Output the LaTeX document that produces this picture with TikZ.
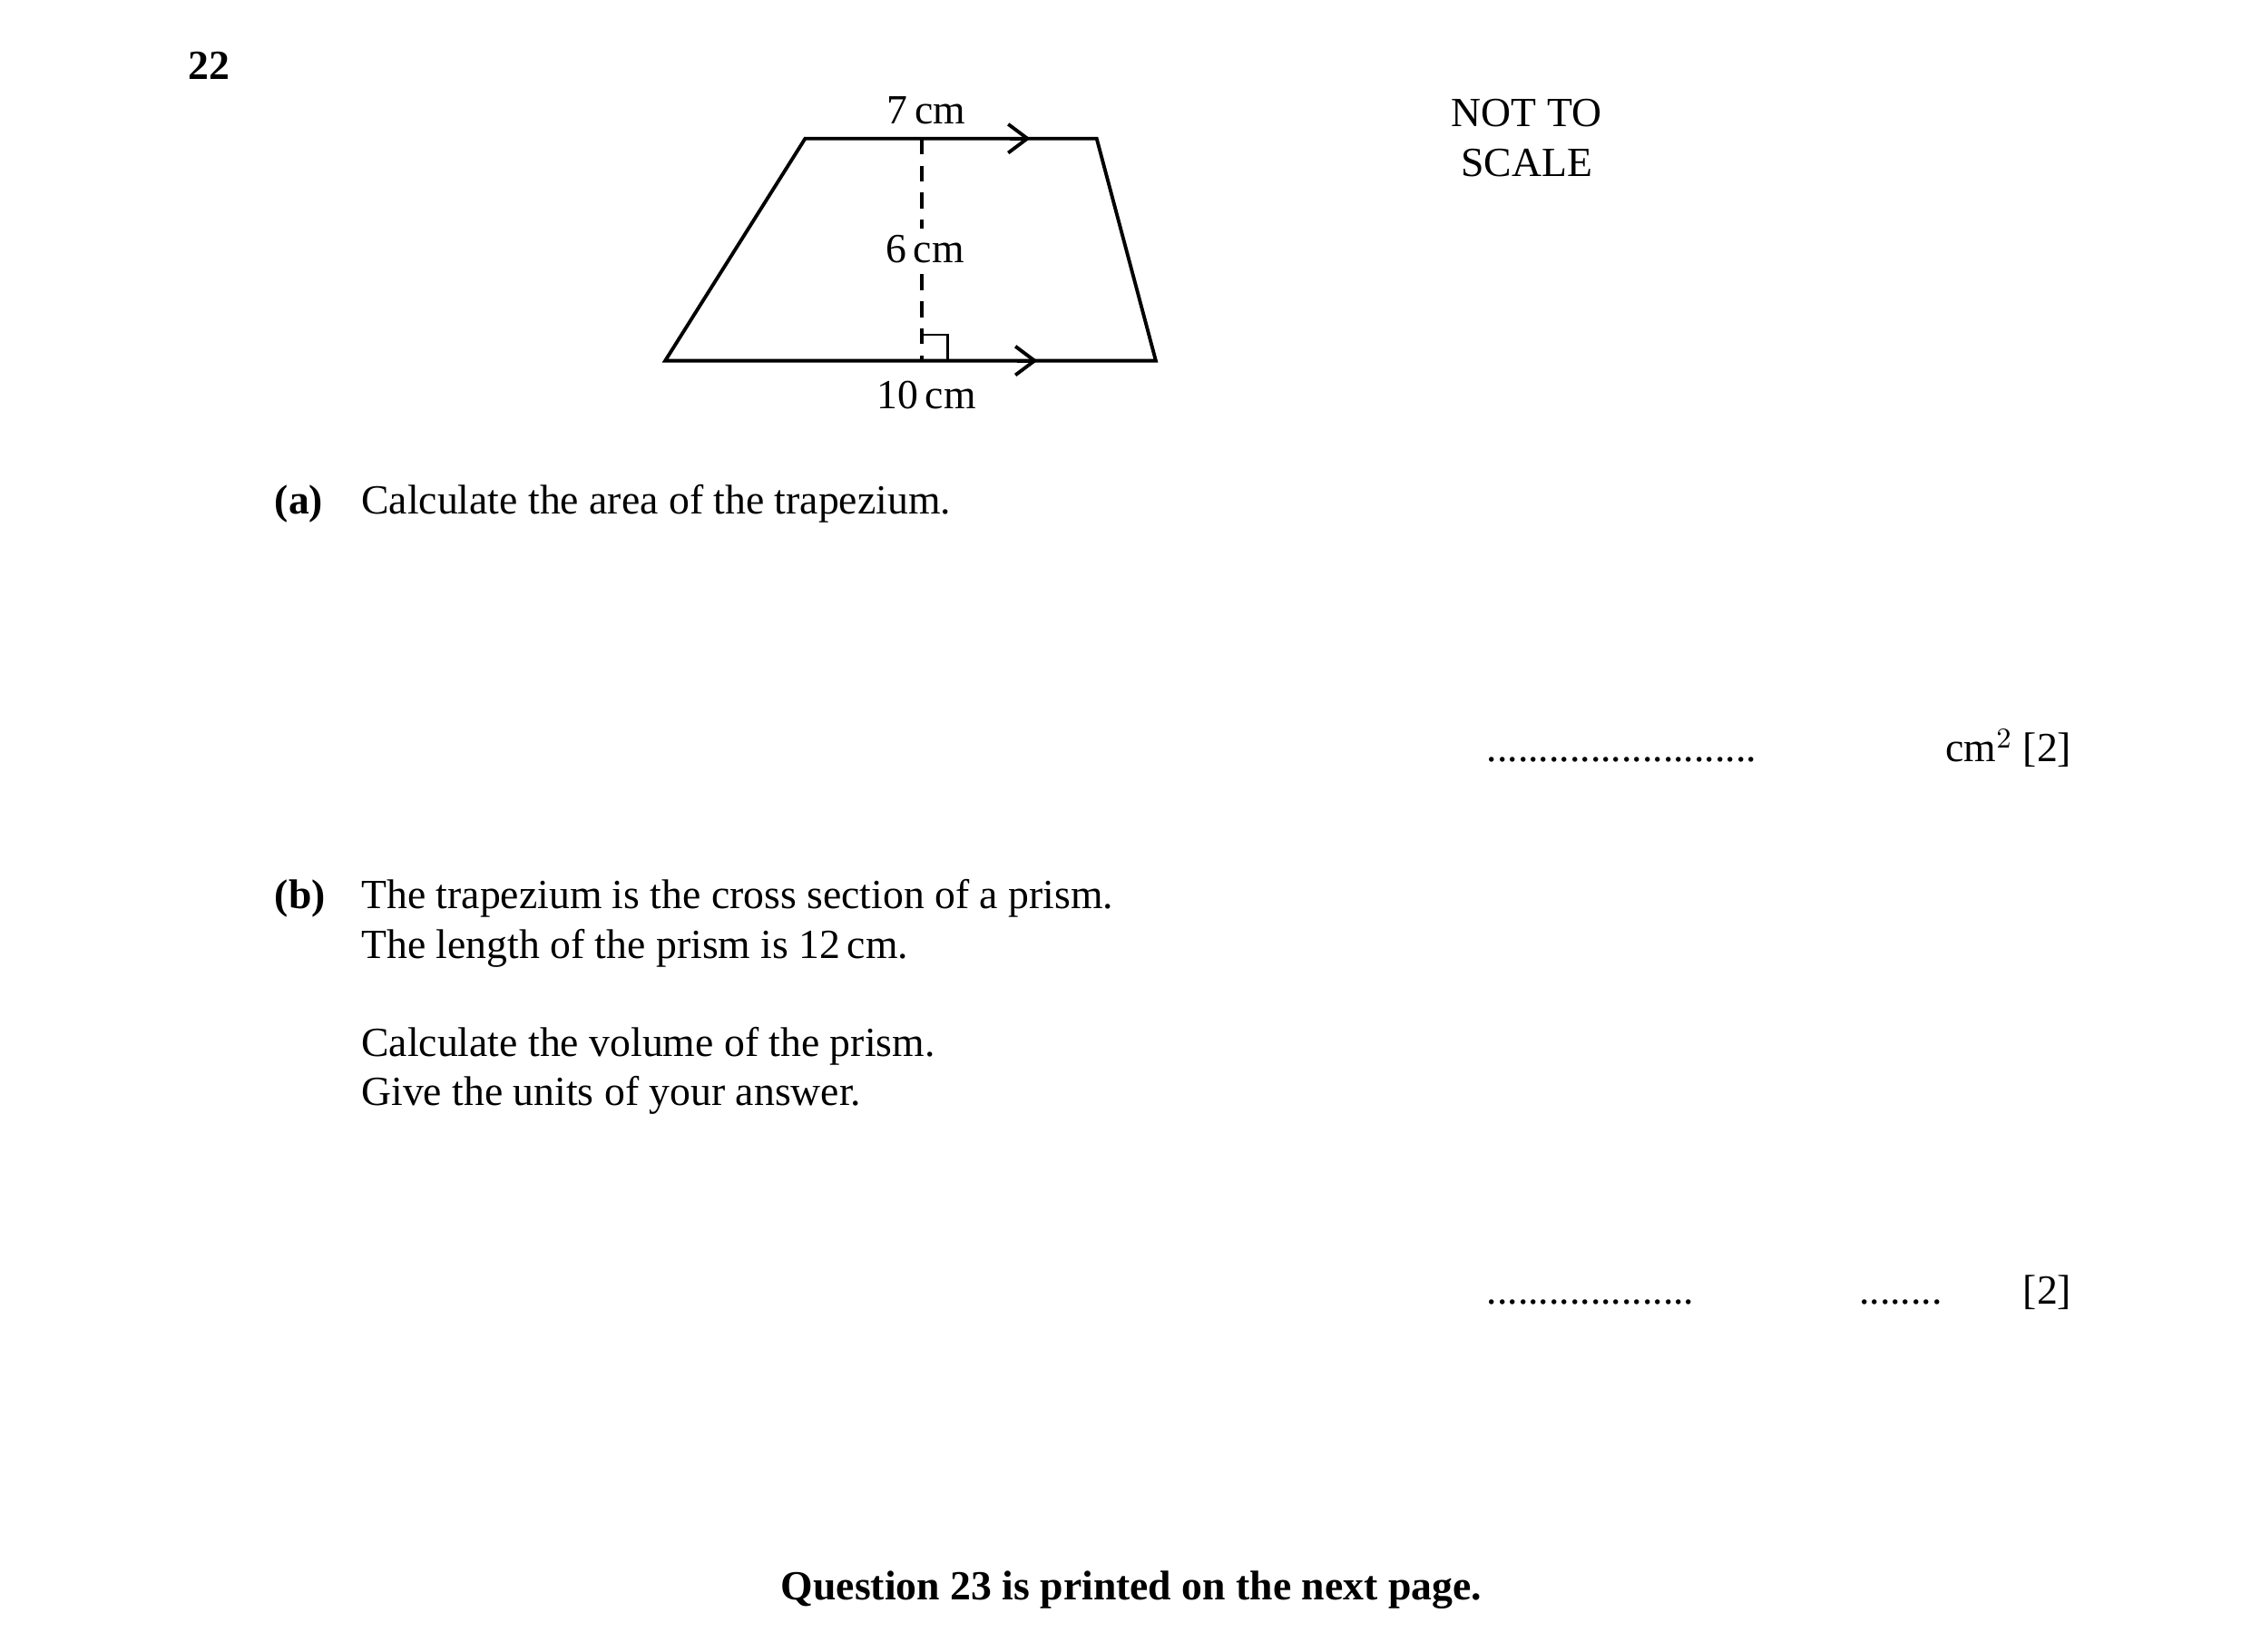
\documentclass[tikz,border=0pt]{standalone}
\usepackage{fontspec}
\setmainfont{Liberation Serif}
\usetikzlibrary{arrows.meta}
\begin{document}
\begin{tikzpicture}[x=0.0159cm,y=-0.0159cm,
  txt/.style={inner sep=0pt,font=\fontsize{13}{15.8}\selectfont},
  lt/.style={txt,anchor=base west},
  edge/.style={line width=1.1pt,line join=miter},
  parmark/.style={-{Straight Barb[length=6pt,width=9pt,line width=1.1pt]},line width=1.1pt}]
\useasboundingbox (0,0) rectangle (1560,1144.6);
\node[txt,anchor=base,font=\fontsize{13}{15.8}\selectfont\bfseries] (q) at (145,55) {22};
% trapezium
\coordinate (A) at (461,250);
\coordinate (B) at (801,250);
\coordinate (C) at (760,96);
\coordinate (D) at (558,96);
\coordinate (T) at (639,96);
\coordinate (F) at (639,250);
\draw[edge] (A) -- (B) -- (C) -- (D) -- cycle;
\draw[line width=1.1pt,dash pattern=on 5pt off 3.5pt] (T) -- (F);
\draw[line width=0.8pt] (639,232) -- (657,232) -- (657,250);
\coordinate (m1) at (700,96); \coordinate (m1e) at (714,96);
\coordinate (m2) at (705,250); \coordinate (m2e) at (719,250);
\draw[parmark] (m1) -- (m1e);
\draw[parmark] (m2) -- (m2e);
\node[txt,anchor=base] (l7) at (642,86) {7\,cm};
\node[txt,anchor=base,fill=white,inner xsep=1pt,inner ysep=2pt] (l6) at (641,182) {6\,cm};
\node[txt,anchor=base] (l10) at (642,283) {10\,cm};
\node[txt,align=center,anchor=north] (nts) at (1058,68) {NOT TO\\SCALE};
% (a)
\node[lt,font=\fontsize{13}{15.8}\selectfont\bfseries] (pa) at (190,356) {(a)};
\node[lt] (ta) at (250,356) {Calculate the area of the trapezium.};
\node[lt] (aa) at (1030,528) {\hbox to 86pt{\leaders\hbox{.}\hfill}};
\node[txt,anchor=base east] (ua) at (1436,528) {cm$^{2}$ [2]};
% (b)
\node[lt,font=\fontsize{13}{15.8}\selectfont\bfseries] (pb) at (190,630) {(b)};
\node[lt] (tb1) at (250,630) {The trapezium is the cross section of a prism.};
\node[lt] (tb2) at (250,664) {The length of the prism is 12\,cm.};
\node[lt] (tb3) at (250,732) {Calculate the volume of the prism.};
\node[lt] (tb4) at (250,766) {Give the units of your answer.};
\node[lt] (ab1) at (1030,904) {\hbox to 66pt{\leaders\hbox{.}\hfill}};
\node[lt] (ab2) at (1288,904) {\hbox to 29pt{\leaders\hbox{.}\hfill}};
\node[txt,anchor=base east] (ub) at (1436,904) {[2]};
\node[txt,anchor=base,font=\fontsize{13}{15.8}\selectfont\bfseries] (foot) at (784,1109) {Question 23 is printed on the next page.};
\end{tikzpicture}
\end{document}
